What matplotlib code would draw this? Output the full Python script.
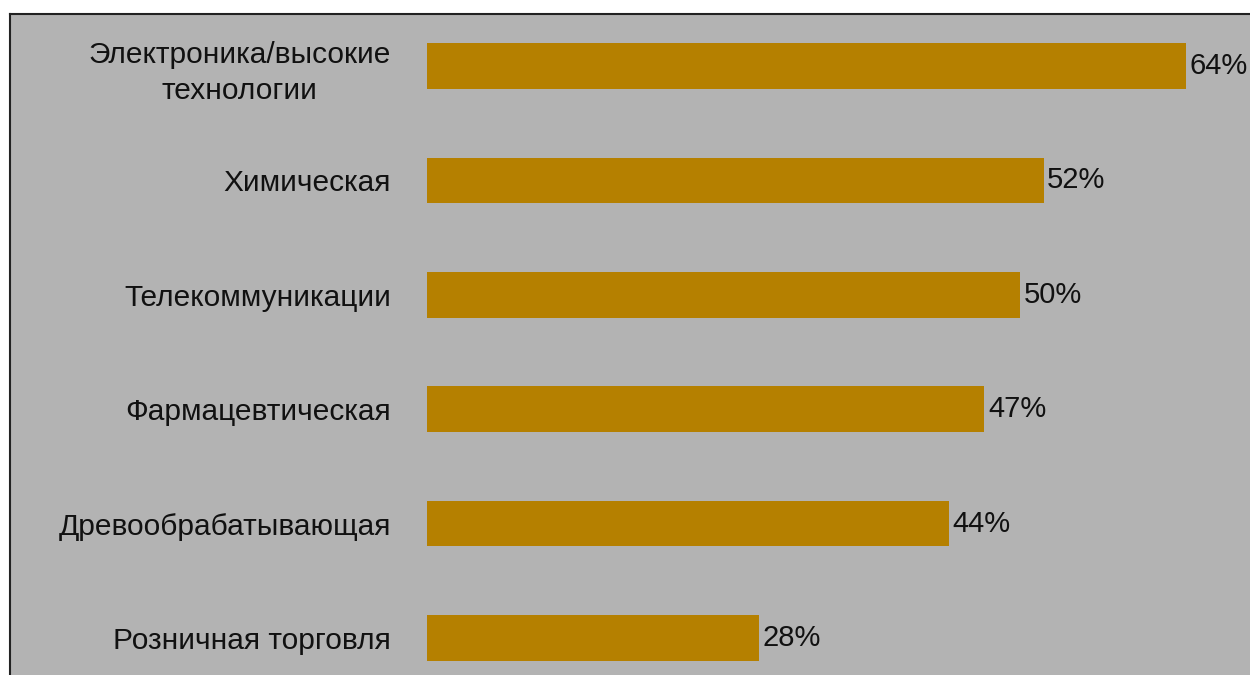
import matplotlib.pyplot as plt

# === DATA ===
categories = [
    "Электроника/высокие\nтехнологии",
    "Химическая",
    "Телекоммуникации",
    "Фармацевтическая",
    "Древообрабатывающая",
    "Розничная торговля",
]
values = [64, 52, 50, 47, 44, 28]

BAR_COLOR = "#b58000"
BG_COLOR = "#b3b3b3"

plt.rcParams["font.family"] = ["Liberation Sans", "DejaVu Sans"]

W, H = 1250, 675
fig = plt.figure(figsize=(W / 100, H / 100), dpi=100)
fig.patch.set_facecolor("white")

# gray panel with a dark border on the top and left
bg = fig.add_axes([10 / W, 0, 1 - 10 / W, 661 / H])
bg.set_facecolor(BG_COLOR)
bg.set_xticks([])
bg.set_yticks([])
for side in ("bottom", "right"):
    bg.spines[side].set_visible(False)
for side in ("top", "left"):
    bg.spines[side].set_color("#222222")
    bg.spines[side].set_linewidth(1.5)

# bar axes, transparent, on top of the panel
ax = fig.add_axes([427 / W, 0, (W - 427) / W, 661 / H])
ax.patch.set_alpha(0)
ypos = list(range(len(categories)))
ax.barh(ypos, values, height=0.40, color=BAR_COLOR)
ax.set_xlim(0, (W - 427) / 11.86)
ax.set_ylim(5 + 37 / 114.4, -52 / 114.4)

ax.set_yticks(ypos)
ax.set_yticklabels(categories, fontsize=21.5, color="#111111",
                   multialignment="center", linespacing=1.35)
ax.tick_params(axis="y", length=0, pad=26)
ax.set_xticks([])
for s in ax.spines.values():
    s.set_visible(False)

for y, v in zip(ypos, values):
    ax.annotate(f"{v}%", (v, y), xytext=(2.5, 0), textcoords="offset points",
                va="center", ha="left", fontsize=21, color="#111111",
                annotation_clip=False)

fig.savefig("out.png", dpi=100)
